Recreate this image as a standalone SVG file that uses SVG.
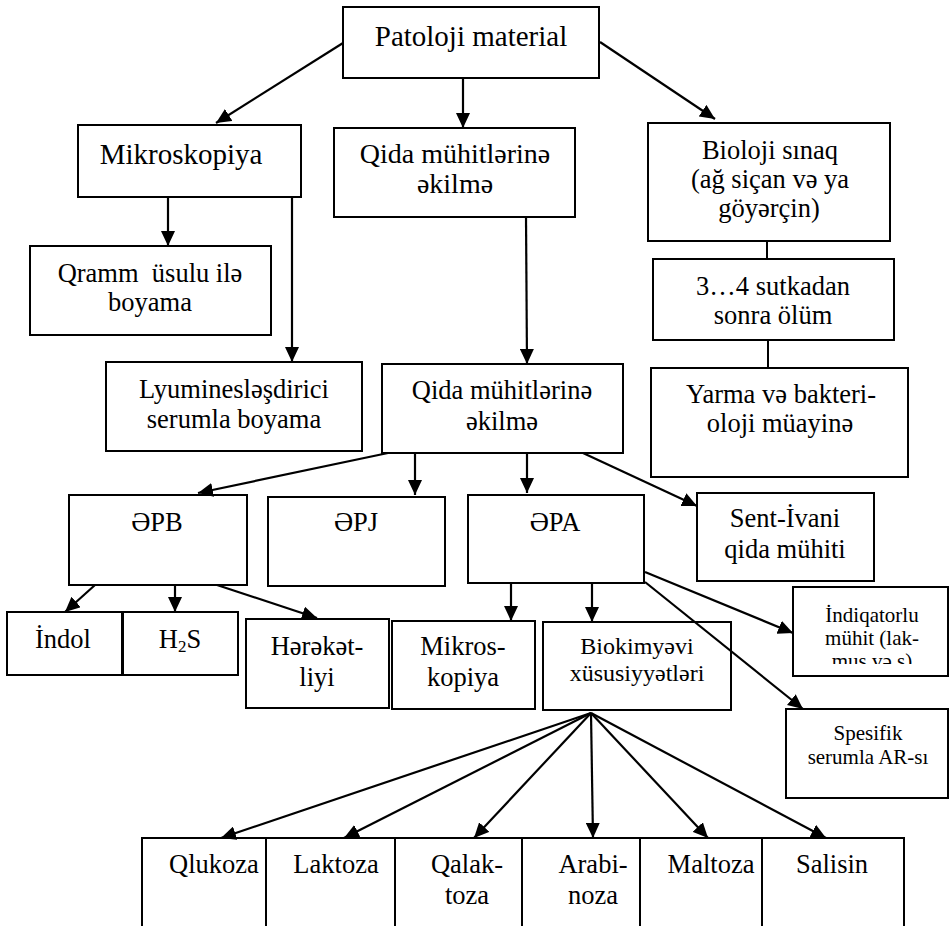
<svg xmlns="http://www.w3.org/2000/svg" width="949" height="926" viewBox="0 0 949 926">
<style>
.box{fill:#fff;stroke:#000;stroke-width:2}
.t{font-family:"Liberation Serif","Times New Roman",serif;font-size:26.5px;text-anchor:middle;fill:#000}
.s{font-size:21px}
.c{stroke:#000;stroke-width:2.2;fill:none;marker-end:url(#ah)}
.ln{stroke:#000;stroke-width:2;fill:none}
</style>
<defs>
<marker id="ah" markerUnits="userSpaceOnUse" markerWidth="15" markerHeight="14" refX="15" refY="7" orient="auto">
<path d="M0,0 L15,7 L0,14 z" fill="#000"/>
</marker>
<clipPath id="clipInd"><rect x="794" y="588" width="153" height="76"/></clipPath>
</defs>
<rect width="949" height="926" fill="#fff"/>

<g id="patoloji">
<rect class="box" x="343" y="7" width="256" height="71"/>
<text class="t" x="471" y="46" style="font-size:29px">Patoloji material</text>
</g>
<g id="mikroskopiya">
<rect class="box" x="78" y="125" width="223" height="72"/>
<text class="t" x="181" y="164" style="font-size:29px">Mikroskopiya</text>
</g>
<g id="qida1">
<rect class="box" x="334" y="128" width="241" height="89"/>
<text class="t" x="455" y="163" style="font-size:28px">Qida mühitlərinə</text>
<text class="t" x="455" y="193" style="font-size:28px">əkilmə</text>
</g>
<g id="bioloji">
<rect class="box" x="648" y="123" width="242" height="118"/>
<text class="t" x="770" y="159">Bioloji sınaq</text>
<text class="t" x="770" y="188">(ağ siçan və ya</text>
<text class="t" x="769" y="217">göyərçin)</text>
</g>
<g id="sutka">
<rect class="box" x="653" y="259" width="241" height="81"/>
<text class="t" x="773" y="295">3…4 sutkadan</text>
<text class="t" x="773" y="324">sonra ölüm</text>
</g>
<g id="yarma">
<rect class="box" x="651" y="368" width="257" height="109"/>
<text class="t" x="781" y="403">Yarma və bakteri-</text>
<text class="t" x="780" y="432">oloji müayinə</text>
</g>
<g id="qramm">
<rect class="box" x="30" y="246" width="241" height="89"/>
<text class="t" x="150" y="282" xml:space="preserve">Qramm  üsulu ilə</text>
<text class="t" x="150" y="311">boyama</text>
</g>
<g id="lyumin">
<rect class="box" x="106" y="362" width="256" height="89"/>
<text class="t" x="234" y="398">Lyuminesləşdirici</text>
<text class="t" x="234" y="428">serumla boyama</text>
</g>
<g id="qida2">
<rect class="box" x="382" y="364" width="241" height="89"/>
<text class="t" x="502" y="399">Qida mühitlərinə</text>
<text class="t" x="502" y="430">əkilmə</text>
</g>
<g id="epb">
<rect class="box" x="69" y="495" width="178" height="90"/>
<text class="t" x="157" y="531">ƏPB</text>
</g>
<g id="epj">
<rect class="box" x="268" y="497" width="177" height="89"/>
<text class="t" x="356" y="531">ƏPJ</text>
</g>
<g id="epa">
<rect class="box" x="468" y="495" width="176" height="88"/>
<text class="t" x="555" y="531">ƏPA</text>
</g>
<g id="sent">
<rect class="box" x="697" y="493" width="177" height="88"/>
<text class="t" x="785" y="527">Sent-İvani</text>
<text class="t" x="785" y="558">qida mühiti</text>
</g>
<g id="indol">
<rect class="box" x="7" y="612" width="115" height="63"/>
<text class="t" x="63" y="648">İndol</text>
</g>
<g id="h2s">
<rect class="box" x="123" y="612" width="115" height="63"/>
<text class="t" x="180" y="648">H<tspan style="font-size:17px" dy="4">2</tspan><tspan dy="-4">S</tspan></text>
</g>
<g id="hereket">
<rect class="box" x="246" y="619" width="143" height="89"/>
<text class="t" x="317" y="655">Hərəkət-</text>
<text class="t" x="317" y="686">liyi</text>
</g>
<g id="mikros">
<rect class="box" x="392" y="621" width="143" height="88"/>
<text class="t" x="463" y="655">Mikros-</text>
<text class="t" x="463" y="686">kopiya</text>
</g>
<g id="biokim">
<rect class="box" x="543" y="622" width="188" height="88"/>
<text class="t" x="637" y="654" style="font-size:24px">Biokimyəvi</text>
<text class="t" x="637" y="681" style="font-size:24px">xüsusiyyətləri</text>
</g>
<g id="indiqator">
<rect class="box" x="793" y="587" width="155" height="89"/>
<g clip-path="url(#clipInd)">
<text class="t s" x="872" y="622">İndiqatorlu</text>
<text class="t s" x="872" y="645">mühit (lak-</text>
<text class="t s" x="872" y="668">mus və s)</text>
</g>
</g>
<g id="spesifik">
<rect class="box" x="786" y="709" width="162" height="89"/>
<text class="t s" x="868" y="740">Spesifik</text>
<text class="t s" x="868" y="764">serumla AR-sı</text>
</g>
<g id="qlukoza">
<rect class="box" x="142" y="838" width="124" height="100"/>
<text class="t" x="214" y="873">Qlukoza</text>
</g>
<g id="laktoza">
<rect class="box" x="266" y="838" width="129" height="100"/>
<text class="t" x="336" y="873">Laktoza</text>
</g>
<g id="qalaktoza">
<rect class="box" x="395" y="838" width="127" height="100"/>
<text class="t" x="467" y="873">Qalak-</text>
<text class="t" x="467" y="904">toza</text>
</g>
<g id="arabinoza">
<rect class="box" x="522" y="838" width="118" height="100"/>
<text class="t" x="593" y="873">Arabi-</text>
<text class="t" x="593" y="904">noza</text>
</g>
<g id="maltoza">
<rect class="box" x="640" y="838" width="122" height="100"/>
<text class="t" x="711" y="873">Maltoza</text>
</g>
<g id="salisin">
<rect class="box" x="762" y="838" width="142" height="100"/>
<text class="t" x="832" y="873">Salisin</text>
</g>

<g id="connectors">
<line class="c" x1="343" y1="43" x2="216" y2="123"/>
<line class="c" x1="463" y1="78" x2="463" y2="128"/>
<line class="c" x1="600" y1="42" x2="715" y2="119"/>
<line class="c" x1="168" y1="197" x2="168" y2="246"/>
<line class="c" x1="292" y1="198" x2="292" y2="362"/>
<line class="c" x1="526" y1="217" x2="527" y2="364"/>
<line class="ln" x1="767" y1="241" x2="767" y2="259"/>
<line class="ln" x1="768" y1="340" x2="768" y2="368"/>
<line class="c" x1="388" y1="453" x2="198" y2="493"/>
<line class="c" x1="415" y1="453" x2="415" y2="495"/>
<line class="c" x1="527" y1="453" x2="527" y2="493"/>
<line class="c" x1="583" y1="453" x2="697" y2="506"/>
<line class="c" x1="95" y1="585" x2="65" y2="612"/>
<line class="c" x1="175" y1="585" x2="175" y2="612"/>
<line class="c" x1="217" y1="585" x2="317" y2="618"/>
<line class="c" x1="511" y1="583" x2="511" y2="621"/>
<line class="c" x1="592" y1="583" x2="592" y2="622"/>
<line class="c" x1="645" y1="572" x2="793" y2="633"/>
<line class="c" x1="645" y1="582" x2="803" y2="709"/>
<line class="c" x1="591" y1="713" x2="221" y2="838"/>
<line class="c" x1="591" y1="713" x2="344" y2="838"/>
<line class="c" x1="591" y1="713" x2="474" y2="838"/>
<line class="c" x1="591" y1="713" x2="593" y2="838"/>
<line class="c" x1="591" y1="713" x2="708" y2="838"/>
<line class="c" x1="591" y1="713" x2="826" y2="838"/>
</g>
</svg>
